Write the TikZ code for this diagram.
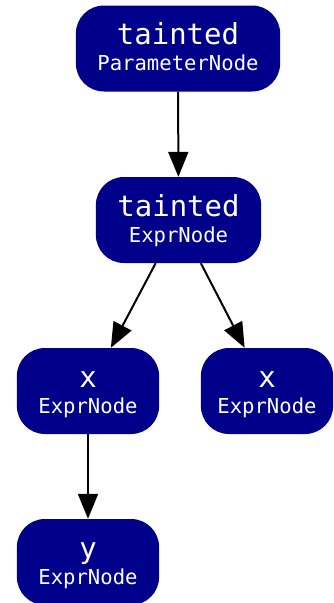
\documentclass[tikz,border=0pt]{standalone}
\usepackage{fontspec}
\setmonofont{DejaVu Sans Mono}
\usetikzlibrary{arrows.meta}

\definecolor{astblue}{rgb}{0,0,0.545}

\newcommand{\astlabel}[2]{{\fontsize{29}{26}\selectfont\rule{0pt}{23pt}#1}\\\rule[-5pt]{0pt}{5pt}#2}

\begin{document}
\begin{tikzpicture}[x=1pt, y=-1pt,
    astnode/.style={fill=astblue, text=white, rounded corners=28pt,
        minimum height=86pt, inner xsep=21.5pt, inner ysep=0pt,
        align=center, font=\ttfamily\fontsize{20.6}{26}\selectfont},
    astedge/.style={-{Triangle[length=25pt, width=20pt]}, line width=2pt}]
        \clip (0,0) rectangle (334,603);

        \node[astnode] (param) at (178,48.5) {\astlabel{tainted}{ParameterNode}};
        \node[astnode] (expr) at (178.5,220) {\astlabel{tainted}{ExprNode}};
        \node[astnode] (xleft) at (88,391) {\astlabel{x}{ExprNode}};
        \node[astnode, inner xsep=16.5pt] (xright) at (267,391) {\astlabel{x}{ExprNode}};
        \node[astnode] (yexpr) at (88,562) {\astlabel{y}{ExprNode}};

        \draw[astedge] (param) -- (expr);
        \draw[astedge] (expr) -- (xleft);
        \draw[astedge] (expr) -- (xright);
        \draw[astedge] (xleft) -- (yexpr);
    \end{tikzpicture}
\end{document}
